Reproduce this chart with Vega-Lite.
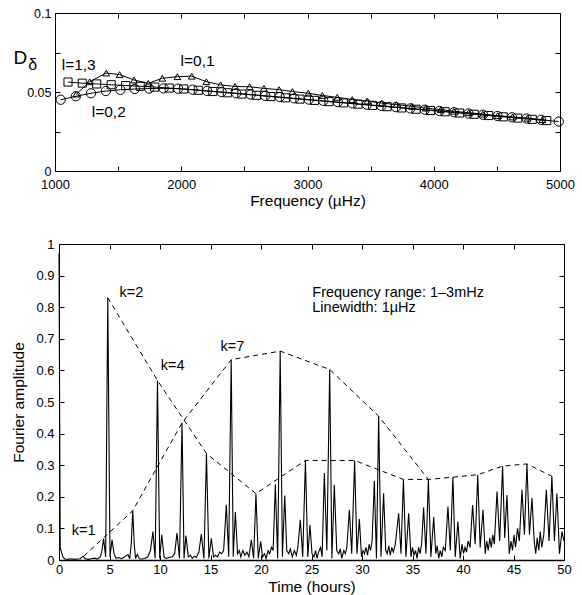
{
"$schema": "https://vega.github.io/schema/vega-lite/v6.json",
"padding": {"left": 11, "top": 7, "right": 0, "bottom": 0},
"spacing": 29,
"config": {"font": "Liberation Sans", "view": {"stroke": null},
 "axis": {"grid": false, "domainColor": "black", "tickColor": "black", "labelColor": "black", "titleColor": "black", "labelFontSize": 13, "titleFontSize": 15.5, "titleFontWeight": "normal", "labelFlush": false, "labelOverlap": false, "tickSize": -5, "domainWidth": 1, "tickWidth": 1}},
"datasets": {
 "modes": [
  {"l":"l=0,2","f":1045,"d":0.0451},{"l":"l=0,2","f":1165,"d":0.0473},{"l":"l=0,2","f":1285,"d":0.0492},{"l":"l=0,2","f":1403,"d":0.0506},{"l":"l=0,2","f":1518,"d":0.0514},{"l":"l=0,2","f":1632,"d":0.0519},{"l":"l=0,2","f":1746,"d":0.0522},{"l":"l=0,2","f":1860,"d":0.0523},{"l":"l=0,2","f":1975,"d":0.0521},{"l":"l=0,2","f":2090,"d":0.0515},{"l":"l=0,2","f":2205,"d":0.0507},{"l":"l=0,2","f":2320,"d":0.05},{"l":"l=0,2","f":2435,"d":0.0492},{"l":"l=0,2","f":2550,"d":0.0484},{"l":"l=0,2","f":2665,"d":0.0476},{"l":"l=0,2","f":2780,"d":0.0468},{"l":"l=0,2","f":2895,"d":0.046},{"l":"l=0,2","f":3010,"d":0.0452},{"l":"l=0,2","f":3125,"d":0.0444},{"l":"l=0,2","f":3240,"d":0.0436},{"l":"l=0,2","f":3355,"d":0.0428},{"l":"l=0,2","f":3470,"d":0.042},{"l":"l=0,2","f":3585,"d":0.0412},{"l":"l=0,2","f":3700,"d":0.0404},{"l":"l=0,2","f":3815,"d":0.0396},{"l":"l=0,2","f":3930,"d":0.0388},{"l":"l=0,2","f":4045,"d":0.038},{"l":"l=0,2","f":4160,"d":0.0372},{"l":"l=0,2","f":4275,"d":0.0364},{"l":"l=0,2","f":4390,"d":0.0356},{"l":"l=0,2","f":4505,"d":0.0348},{"l":"l=0,2","f":4620,"d":0.034},{"l":"l=0,2","f":4735,"d":0.0332},{"l":"l=0,2","f":4850,"d":0.0324},{"l":"l=0,2","f":4990,"d":0.0313},
  {"l":"l=1,3","f":1103,"d":0.0563},{"l":"l=1,3","f":1216,"d":0.0556},{"l":"l=1,3","f":1330,"d":0.0551},{"l":"l=1,3","f":1445,"d":0.0546},{"l":"l=1,3","f":1560,"d":0.0541},{"l":"l=1,3","f":1675,"d":0.0536},{"l":"l=1,3","f":1790,"d":0.0531},{"l":"l=1,3","f":1905,"d":0.0525},{"l":"l=1,3","f":2020,"d":0.0519},{"l":"l=1,3","f":2135,"d":0.0511},{"l":"l=1,3","f":2250,"d":0.0503},{"l":"l=1,3","f":2365,"d":0.0495},{"l":"l=1,3","f":2480,"d":0.0487},{"l":"l=1,3","f":2595,"d":0.0479},{"l":"l=1,3","f":2710,"d":0.0471},{"l":"l=1,3","f":2825,"d":0.0463},{"l":"l=1,3","f":2940,"d":0.0455},{"l":"l=1,3","f":3055,"d":0.0447},{"l":"l=1,3","f":3170,"d":0.0439},{"l":"l=1,3","f":3285,"d":0.0431},{"l":"l=1,3","f":3400,"d":0.0423},{"l":"l=1,3","f":3515,"d":0.0415},{"l":"l=1,3","f":3630,"d":0.0407},{"l":"l=1,3","f":3745,"d":0.0399},{"l":"l=1,3","f":3860,"d":0.0391},{"l":"l=1,3","f":3975,"d":0.0383},{"l":"l=1,3","f":4090,"d":0.0375},{"l":"l=1,3","f":4205,"d":0.0367},{"l":"l=1,3","f":4320,"d":0.0359},{"l":"l=1,3","f":4435,"d":0.0351},{"l":"l=1,3","f":4550,"d":0.0343},{"l":"l=1,3","f":4665,"d":0.0335},{"l":"l=1,3","f":4780,"d":0.0327},{"l":"l=1,3","f":4895,"d":0.0319},
  {"l":"l=0,1","f":1169,"d":0.0487},{"l":"l=0,1","f":1275,"d":0.0565},{"l":"l=0,1","f":1406,"d":0.062},{"l":"l=0,1","f":1512,"d":0.061},{"l":"l=0,1","f":1626,"d":0.0576},{"l":"l=0,1","f":1739,"d":0.0555},{"l":"l=0,1","f":1850,"d":0.0587},{"l":"l=0,1","f":1969,"d":0.0597},{"l":"l=0,1","f":2083,"d":0.06},{"l":"l=0,1","f":2199,"d":0.0565},{"l":"l=0,1","f":2312,"d":0.0545},{"l":"l=0,1","f":2426,"d":0.0535},{"l":"l=0,1","f":2542,"d":0.0533},{"l":"l=0,1","f":2655,"d":0.0523},{"l":"l=0,1","f":2775,"d":0.0515},{"l":"l=0,1","f":2880,"d":0.0503},{"l":"l=0,1","f":3006,"d":0.0492},{"l":"l=0,1","f":3117,"d":0.0478},{"l":"l=0,1","f":3236,"d":0.0466},{"l":"l=0,1","f":3355,"d":0.0452},{"l":"l=0,1","f":3474,"d":0.0443},{"l":"l=0,1","f":3588,"d":0.043},{"l":"l=0,1","f":3704,"d":0.042},{"l":"l=0,1","f":3826,"d":0.041},{"l":"l=0,1","f":3936,"d":0.0398},{"l":"l=0,1","f":4055,"d":0.0388},{"l":"l=0,1","f":4160,"d":0.0378},{"l":"l=0,1","f":4277,"d":0.0369},{"l":"l=0,1","f":4388,"d":0.036},{"l":"l=0,1","f":4506,"d":0.035},{"l":"l=0,1","f":4624,"d":0.0342},{"l":"l=0,1","f":4743,"d":0.0334},{"l":"l=0,1","f":4860,"d":0.0325}
 ],
 "toplab": [{"f":1053,"d":0.064,"s":"l=1,3"},{"f":1995,"d":0.0667,"s":"l=0,1"},{"f":1291,"d":0.0341,"s":"l=0,2"}],
 "delta": [{"f":788,"d":0.0642,"s":"δ"}],
 "sig": [
  {"t":0,"a":0.97},{"t":0.12,"a":0.04},{"t":0.25,"a":0.025},{"t":0.4,"a":0.008},{"t":0.6,"a":0.003},{"t":0.9,"a":0.002},{"t":1.2,"a":0.004},{"t":1.5,"a":0.002},{"t":1.8,"a":0.003},{"t":2.1,"a":0.004},{"t":2.38,"a":0.012},{"t":2.6,"a":0.004},{"t":2.9,"a":0.002},{"t":3.2,"a":0.004},{"t":3.5,"a":0.006},{"t":3.8,"a":0.003},{"t":4.1,"a":0.01},{"t":4.25,"a":0.03},{"t":4.42,"a":0.067},{"t":4.62,"a":0.01},{"t":4.83,"a":0.83},{"t":5.05,"a":0.01},{"t":5.25,"a":0.064},{"t":5.45,"a":0.02},{"t":5.65,"a":0.005},{"t":5.9,"a":0.008},{"t":6.2,"a":0.004},{"t":6.5,"a":0.01},{"t":6.83,"a":0.017},{"t":7.0,"a":0.004},{"t":7.15,"a":0.05},{"t":7.3,"a":0.156},{"t":7.45,"a":0.05},{"t":7.58,"a":0.005},{"t":7.75,"a":0.018},{"t":7.95,"a":0.004},{"t":8.2,"a":0.003},{"t":8.5,"a":0.005},{"t":8.8,"a":0.01},{"t":9.05,"a":0.03},{"t":9.3,"a":0.09},{"t":9.52,"a":0.005},{"t":9.75,"a":0.568},{"t":9.97,"a":0.005},{"t":10.17,"a":0.08},{"t":10.4,"a":0.01},{"t":10.6,"a":0.005},{"t":10.9,"a":0.008},{"t":11.2,"a":0.01},{"t":11.45,"a":0.02},{"t":11.68,"a":0.085},{"t":11.93,"a":0.005},{"t":12.18,"a":0.434},{"t":12.38,"a":0.005},{"t":12.57,"a":0.077},{"t":12.8,"a":0.01},{"t":13.0,"a":0.015},{"t":13.2,"a":0.005},{"t":13.4,"a":0.012},{"t":13.6,"a":0.008},{"t":13.85,"a":0.025},{"t":14.09,"a":0.082},{"t":14.35,"a":0.005},{"t":14.6,"a":0.337},{"t":14.84,"a":0.005},{"t":15.08,"a":0.069},{"t":15.3,"a":0.01},{"t":15.5,"a":0.015},{"t":15.7,"a":0.01},{"t":15.9,"a":0.025},{"t":16.1,"a":0.02},{"t":16.3,"a":0.03},{"t":16.57,"a":0.175},{"t":16.8,"a":0.01},{"t":17.05,"a":0.634},{"t":17.25,"a":0.01},{"t":17.46,"a":0.152},{"t":17.68,"a":0.02},{"t":17.85,"a":0.03},{"t":18.0,"a":0.01},{"t":18.2,"a":0.03},{"t":18.4,"a":0.015},{"t":18.6,"a":0.025},{"t":18.8,"a":0.01},{"t":19.04,"a":0.064},{"t":19.27,"a":0.005},{"t":19.5,"a":0.21},{"t":19.73,"a":0.005},{"t":19.97,"a":0.059},{"t":20.15,"a":0.01},{"t":20.35,"a":0.02},{"t":20.5,"a":0.005},{"t":20.7,"a":0.03},{"t":20.85,"a":0.02},{"t":21.05,"a":0.04},{"t":21.2,"a":0.03},{"t":21.42,"a":0.24},{"t":21.65,"a":0.005},{"t":21.9,"a":0.661},{"t":22.12,"a":0.01},{"t":22.35,"a":0.204},{"t":22.55,"a":0.03},{"t":22.75,"a":0.02},{"t":22.9,"a":0.035},{"t":23.1,"a":0.01},{"t":23.3,"a":0.03},{"t":23.5,"a":0.015},{"t":23.65,"a":0.04},{"t":23.89,"a":0.127},{"t":24.13,"a":0.01},{"t":24.4,"a":0.315},{"t":24.63,"a":0.01},{"t":24.85,"a":0.111},{"t":25.05,"a":0.02},{"t":25.25,"a":0.01},{"t":25.4,"a":0.03},{"t":25.55,"a":0.005},{"t":25.7,"a":0.025},{"t":25.9,"a":0.04},{"t":26.05,"a":0.01},{"t":26.27,"a":0.275},{"t":26.52,"a":0.03},{"t":26.8,"a":0.603},{"t":27.02,"a":0.005},{"t":27.26,"a":0.238},{"t":27.5,"a":0.03},{"t":27.7,"a":0.02},{"t":27.85,"a":0.035},{"t":28.0,"a":0.005},{"t":28.2,"a":0.03},{"t":28.35,"a":0.02},{"t":28.5,"a":0.04},{"t":28.75,"a":0.159},{"t":28.98,"a":0.02},{"t":29.27,"a":0.315},{"t":29.5,"a":0.02},{"t":29.74,"a":0.13},{"t":29.95,"a":0.01},{"t":30.1,"a":0.03},{"t":30.25,"a":0.02},{"t":30.4,"a":0.04},{"t":30.55,"a":0.015},{"t":30.7,"a":0.05},{"t":30.85,"a":0.03},{"t":31.0,"a":0.06},{"t":31.22,"a":0.25},{"t":31.43,"a":0.005},{"t":31.65,"a":0.455},{"t":31.88,"a":0.01},{"t":32.14,"a":0.211},{"t":32.35,"a":0.03},{"t":32.5,"a":0.02},{"t":32.65,"a":0.045},{"t":32.8,"a":0.015},{"t":32.95,"a":0.04},{"t":33.1,"a":0.025},{"t":33.3,"a":0.05},{"t":33.63,"a":0.148},{"t":33.86,"a":0.02},{"t":34.1,"a":0.255},{"t":34.35,"a":0.01},{"t":34.62,"a":0.148},{"t":34.85,"a":0.01},{"t":35.0,"a":0.04},{"t":35.15,"a":0.015},{"t":35.3,"a":0.03},{"t":35.45,"a":0.005},{"t":35.6,"a":0.04},{"t":35.75,"a":0.02},{"t":35.9,"a":0.05},{"t":36.1,"a":0.166},{"t":36.33,"a":0.02},{"t":36.57,"a":0.255},{"t":36.82,"a":0.01},{"t":37.1,"a":0.136},{"t":37.3,"a":0.02},{"t":37.45,"a":0.045},{"t":37.6,"a":0.005},{"t":37.75,"a":0.03},{"t":37.9,"a":0.01},{"t":38.05,"a":0.04},{"t":38.25,"a":0.03},{"t":38.51,"a":0.169},{"t":38.74,"a":0.03},{"t":39.0,"a":0.262},{"t":39.23,"a":0.01},{"t":39.5,"a":0.122},{"t":39.72,"a":0.005},{"t":39.9,"a":0.05},{"t":40.05,"a":0.02},{"t":40.2,"a":0.04},{"t":40.35,"a":0.025},{"t":40.5,"a":0.06},{"t":40.7,"a":0.04},{"t":40.95,"a":0.174},{"t":41.2,"a":0.05},{"t":41.46,"a":0.27},{"t":41.7,"a":0.04},{"t":41.98,"a":0.159},{"t":42.2,"a":0.02},{"t":42.35,"a":0.06},{"t":42.5,"a":0.03},{"t":42.65,"a":0.07},{"t":42.8,"a":0.04},{"t":42.95,"a":0.08},{"t":43.1,"a":0.05},{"t":43.37,"a":0.217},{"t":43.63,"a":0.06},{"t":43.92,"a":0.297},{"t":44.13,"a":0.07},{"t":44.35,"a":0.206},{"t":44.58,"a":0.02},{"t":44.75,"a":0.06},{"t":44.9,"a":0.03},{"t":45.05,"a":0.08},{"t":45.2,"a":0.04},{"t":45.4,"a":0.1},{"t":45.58,"a":0.06},{"t":45.84,"a":0.222},{"t":46.08,"a":0.08},{"t":46.33,"a":0.304},{"t":46.58,"a":0.08},{"t":46.83,"a":0.196},{"t":47.05,"a":0.06},{"t":47.2,"a":0.02},{"t":47.35,"a":0.07},{"t":47.5,"a":0.03},{"t":47.65,"a":0.09},{"t":47.8,"a":0.04},{"t":48.0,"a":0.08},{"t":48.25,"a":0.222},{"t":48.52,"a":0.06},{"t":48.8,"a":0.265},{"t":49.05,"a":0.06},{"t":49.3,"a":0.21},{"t":49.55,"a":0.02},{"t":49.8,"a":0.09},{"t":50.0,"a":0.06}
 ],
 "env": [
  {"g":"A","t":4.83,"a":0.83},{"g":"A","t":9.75,"a":0.568},{"g":"A","t":14.6,"a":0.337},{"g":"A","t":19.5,"a":0.21},{"g":"A","t":24.4,"a":0.315},{"g":"A","t":29.27,"a":0.315},{"g":"A","t":34.1,"a":0.255},{"g":"A","t":36.57,"a":0.255},{"g":"A","t":39.0,"a":0.262},{"g":"A","t":41.46,"a":0.27},{"g":"A","t":43.92,"a":0.297},{"g":"A","t":46.33,"a":0.304},{"g":"A","t":48.8,"a":0.265},
  {"g":"B","t":2.45,"a":0.012},{"g":"B","t":7.3,"a":0.156},{"g":"B","t":12.18,"a":0.434},{"g":"B","t":17.05,"a":0.634},{"g":"B","t":21.9,"a":0.661},{"g":"B","t":26.8,"a":0.603},{"g":"B","t":31.65,"a":0.455},{"g":"B","t":36.57,"a":0.255}
 ],
 "blab": [{"t":6.0,"a":0.831,"s":"k=2"},{"t":10.07,"a":0.601,"s":"k=4"},{"t":16.0,"a":0.66,"s":"k=7"},{"t":1.26,"a":0.08,"s":"k=1"},{"t":25.08,"a":0.833,"s":"Frequency range: 1–3mHz"},{"t":25.08,"a":0.785,"s":"Linewidth: 1µHz"}]
},
"vconcat": [
 {
  "width": 505, "height": 158,
  "layer": [
   {"data": {"name": "modes"}, "mark": {"type": "line", "color": "black", "strokeWidth": 1},
    "encoding": {
     "x": {"field": "f", "type": "quantitative", "scale": {"domain": [1000, 5000], "range": [-4, 501]},
       "axis": {"orient": "bottom", "values": [1000,1500,2000,2500,3000,3500,4000,4500,5000], "format": "d", "labelExpr": "datum.value % 1000 == 0 ? datum.label : ''", "title": "Frequency (µHz)", "labelPadding": 12.5, "titlePadding": 2}},
     "y": {"field": "d", "type": "quantitative", "scale": {"domain": [0, 0.1]},
       "axis": {"orient": "left", "offset": 4, "values": [0,0.025,0.05,0.075,0.1], "format": "~g", "labelFontSize": 12.5, "labelExpr": "(datum.value == 0 || datum.value == 0.05 || datum.value == 0.1) ? datum.label : ''", "title": "D", "titleAngle": 0, "titleFontSize": 19, "titleAlign": "left", "titleBaseline": "alphabetic", "titleX": -42, "titleY": 50, "labelPadding": 9}},
     "detail": {"field": "l"}}},
   {"data": {"name": "modes"}, "mark": {"type": "point", "filled": false, "color": "black", "strokeWidth": 1, "opacity": 1},
    "encoding": {
     "x": {"field": "f", "type": "quantitative", "axis": null},
     "y": {"field": "d", "type": "quantitative", "axis": null},
     "shape": {"field": "l", "type": "nominal", "scale": {"domain": ["l=0,2","l=1,3","l=0,1"], "range": ["circle","square","triangle-up"]}, "legend": null},
     "size": {"field": "l", "type": "nominal", "scale": {"domain": ["l=0,2","l=1,3","l=0,1"], "range": [86, 45, 125]}, "legend": null}}},
   {"data": {"name": "toplab"}, "mark": {"type": "text", "align": "left", "baseline": "alphabetic", "fontSize": 15.5, "color": "black"},
    "encoding": {"x": {"field": "f", "type": "quantitative", "axis": null}, "y": {"field": "d", "type": "quantitative", "axis": null}, "text": {"field": "s"}}},
   {"data": {"name": "delta"}, "mark": {"type": "text", "align": "left", "baseline": "alphabetic", "fontSize": 16, "color": "black"},
    "encoding": {"x": {"field": "f", "type": "quantitative", "axis": null}, "y": {"field": "d", "type": "quantitative", "axis": null}, "text": {"field": "s"}}},
   {"data": {"name": "modes"}, "mark": {"type": "point", "opacity": 0},
    "encoding": {
     "x": {"field": "f", "type": "quantitative", "axis": {"orient": "top", "values": [1000,1500,2000,2500,3000,3500,4000,4500,5000], "labels": false, "title": null}},
     "y": {"field": "d", "type": "quantitative", "axis": {"orient": "right", "offset": -4, "values": [0,0.025,0.05,0.075,0.1], "labels": false, "title": null}}}}
  ],
  "resolve": {"axis": {"x": "independent", "y": "independent"}}
 },
 {
  "width": 505, "height": 316,
  "layer": [
   {"data": {"name": "sig"}, "mark": {"type": "line", "color": "black", "strokeWidth": 1.1},
    "encoding": {
     "x": {"field": "t", "type": "quantitative", "scale": {"domain": [0, 50]},
       "axis": {"orient": "bottom", "values": [0,5,10,15,20,25,30,35,40,45,50], "format": "~g", "title": "Time (hours)", "labelPadding": 8, "titlePadding": 3, "domainWidth": 1.5}},
     "y": {"field": "a", "type": "quantitative", "scale": {"domain": [0, 1]},
       "axis": {"orient": "left", "values": [0,0.1,0.2,0.3,0.4,0.5,0.6,0.7,0.8,0.9,1], "format": "~g", "title": "Fourier amplitude", "labelPadding": 10, "titlePadding": 9}}}},
   {"data": {"name": "env"}, "mark": {"type": "line", "color": "black", "strokeWidth": 1, "strokeDash": [5, 4]},
    "encoding": {"x": {"field": "t", "type": "quantitative", "axis": null}, "y": {"field": "a", "type": "quantitative", "axis": null}, "detail": {"field": "g"}}},
   {"data": {"name": "blab"}, "mark": {"type": "text", "align": "left", "baseline": "alphabetic", "fontSize": 14.5, "color": "black"},
    "encoding": {"x": {"field": "t", "type": "quantitative", "axis": null}, "y": {"field": "a", "type": "quantitative", "axis": null}, "text": {"field": "s"}}},
   {"data": {"name": "sig"}, "mark": {"type": "point", "opacity": 0},
    "encoding": {
     "x": {"field": "t", "type": "quantitative", "axis": {"orient": "top", "values": [0,5,10,15,20,25,30,35,40,45,50], "labels": false, "title": null}},
     "y": {"field": "a", "type": "quantitative", "axis": {"orient": "right", "values": [0,0.1,0.2,0.3,0.4,0.5,0.6,0.7,0.8,0.9,1], "labels": false, "title": null}}}}
  ],
  "resolve": {"axis": {"x": "independent", "y": "independent"}}
 }
]
}
